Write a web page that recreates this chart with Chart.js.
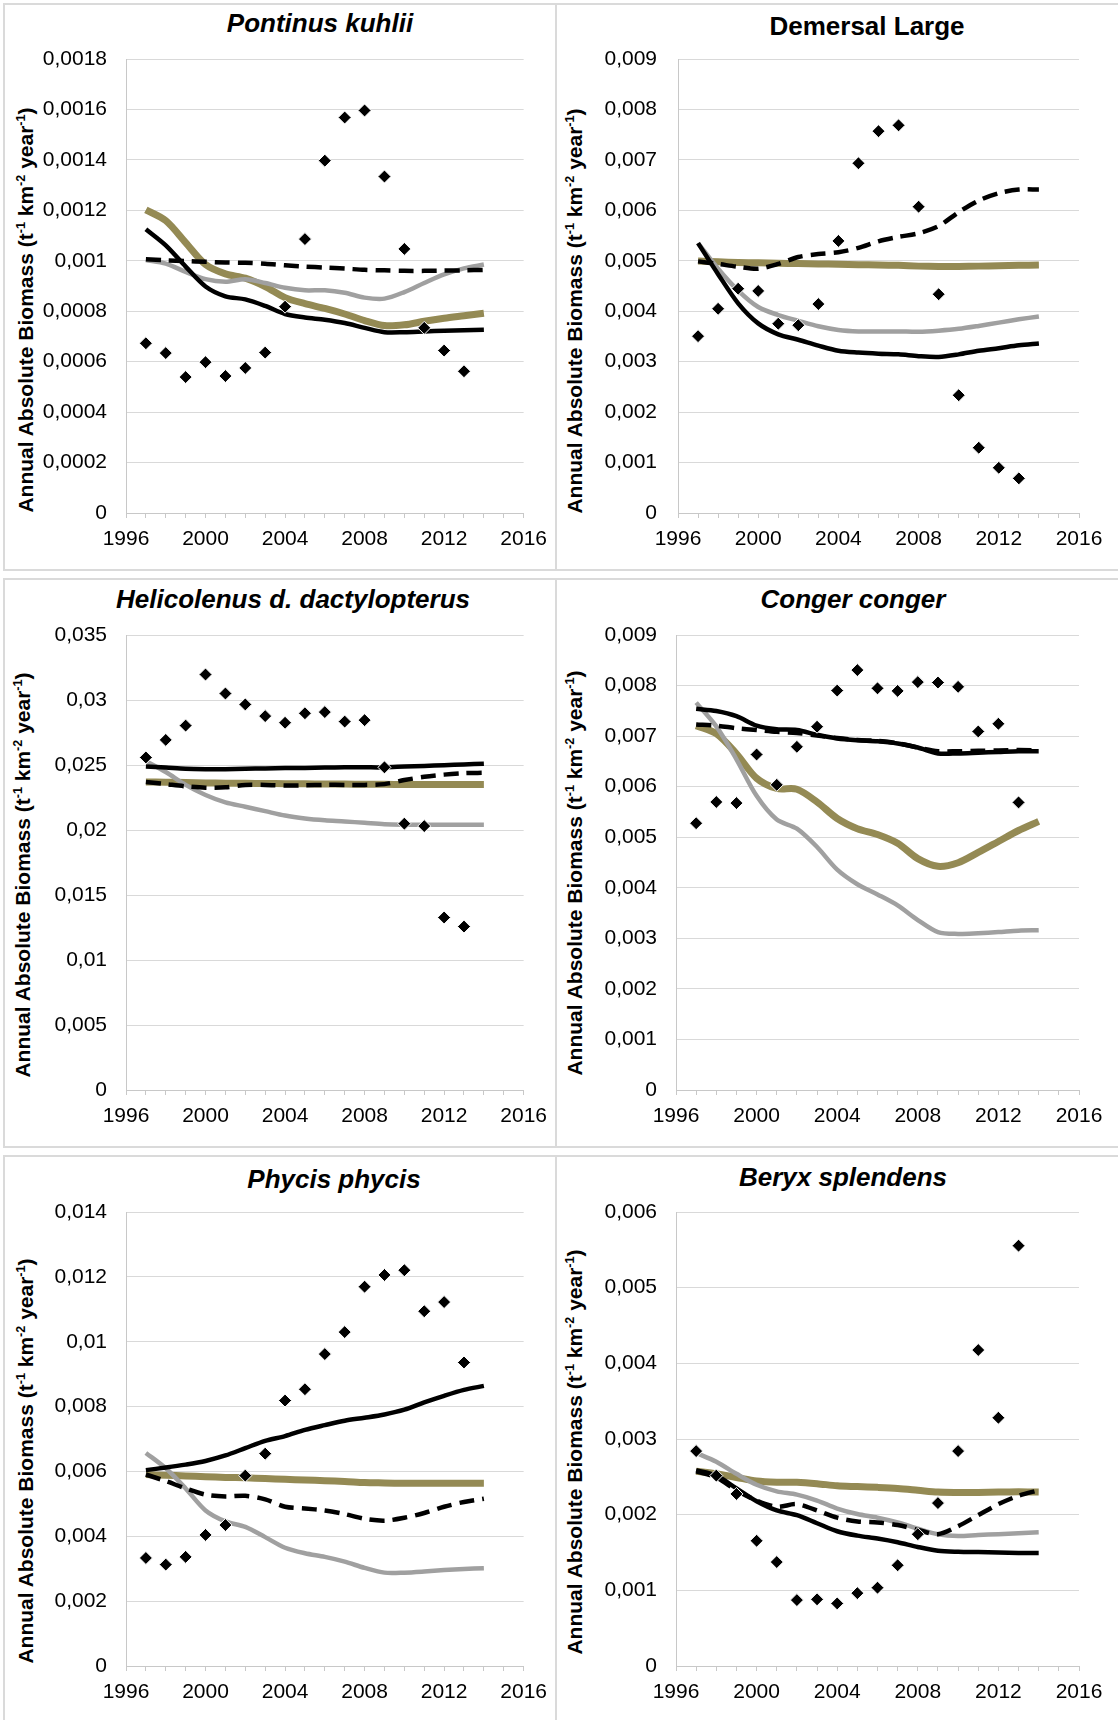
<!DOCTYPE html>
<html>
<head>
<meta charset="utf-8">
<script src="https://cdn.jsdelivr.net/npm/chart.js@4.4.1/dist/chart.umd.min.js"></script>
<style>
html,body{margin:0;padding:0;background:#fff;}
#page{position:relative;width:1118px;height:1720px;overflow:hidden;font-family:'Liberation Sans',Arial,sans-serif;}
.box{position:absolute;border:2px solid #dadada;box-sizing:border-box;}
canvas{position:absolute;}
.title{position:absolute;font-weight:bold;font-size:26px;white-space:nowrap;transform:translate(-50%,-50%);color:#000;line-height:1.15;}
.ytitle{position:absolute;font-weight:bold;font-size:21px;white-space:nowrap;transform:translate(-50%,-50%) rotate(-90deg);color:#000;line-height:1.15;}
.ytitle sup{font-size:0.6em;vertical-align:0.65em;line-height:0;}
</style>
</head>
<body>
<div id="page"></div>
<script>
// ---------------- DATA ----------------
const years = [1997,1998,1999,2000,2001,2002,2003,2004,2005,2006,2007,2008,2009,2010,2011,2012,2013,2014];
const obsYears = [1997,1998,1999,2000,2001,2002,2003,2004,2005,2006,2007,2008,2009,2010,2011,2012,2013];
const xTickYears = [1996,2000,2004,2008,2012,2016];

const panelTitles = ['Pontinus kuhlii','Demersal Large','Helicolenus d. dactylopterus','Conger conger','Phycis phycis','Beryx splendens'];
const titleItalic = [true,false,true,true,true,true];
const yAxisTitle = 'Annual Absolute Biomass (t<sup>-1</sup> km<sup>-2</sup> year<sup>-1</sup>)';

// Pontinus kuhlii
const pkObs    = [0.000673,0.000634,0.000539,0.000598,0.000543,0.000575,0.000636,0.000818,0.001086,0.001397,0.001568,0.001596,0.001334,0.001047,0.000734,0.000644,0.000562];
const pkBlack  = [0.001125,0.001061,0.000977,0.000898,0.000859,0.000847,0.000821,0.000789,0.000775,0.000766,0.000753,0.000734,0.000717,0.000717,0.00072,0.000723,0.000725,0.000727];
const pkDashed = [0.001006,0.001002,0.000999,0.000996,0.000993,0.000992,0.000988,0.000982,0.000977,0.000973,0.000969,0.000964,0.000962,0.00096,0.00096,0.000961,0.000962,0.000964];
const pkGray   = [0.001003,0.000989,0.000956,0.000927,0.000917,0.000927,0.000912,0.000893,0.000883,0.000883,0.000873,0.000854,0.00085,0.000876,0.000912,0.000946,0.00097,0.000985];
const pkOlive  = [0.001202,0.001159,0.001072,0.000985,0.000948,0.000931,0.000898,0.000854,0.00083,0.000811,0.000789,0.000763,0.000743,0.000746,0.00076,0.000772,0.000782,0.000792];

// Demersal Large
const dlObs    = [0.003506,0.004048,0.004446,0.004402,0.003752,0.003723,0.004142,0.005393,0.006933,0.007569,0.007685,0.006072,0.004337,0.002335,0.001294,0.000896,0.000687];
const dlBlack  = [0.00535,0.004735,0.004157,0.003759,0.003542,0.003434,0.003318,0.003217,0.003181,0.003159,0.003145,0.003109,0.003094,0.003145,0.003217,0.003268,0.003325,0.003362];
const dlDashed = [0.004988,0.004937,0.00488,0.004843,0.004937,0.005075,0.005133,0.005169,0.005256,0.005386,0.005473,0.005545,0.005689,0.005964,0.006195,0.00634,0.006412,0.006412];
const dlGray   = [0.00535,0.004843,0.00441,0.004084,0.003925,0.00381,0.003701,0.003629,0.0036,0.0036,0.0036,0.003593,0.003615,0.003651,0.003709,0.003774,0.003839,0.003896];
const dlOlive  = [0.004995,0.004981,0.004966,0.004959,0.004952,0.004945,0.004938,0.00493,0.004923,0.004916,0.004909,0.004894,0.004887,0.004887,0.004894,0.004901,0.004909,0.004916];

// Helicolenus d. dactylopterus
const hdObs    = [0.02558,0.02693,0.02803,0.03196,0.0305,0.02966,0.02876,0.02825,0.02898,0.02907,0.02834,0.02845,0.02482,0.02049,0.0203,0.01327,0.01257];
const hdBlack  = [0.02488,0.0248,0.02471,0.02468,0.02468,0.02471,0.02474,0.02477,0.02477,0.0248,0.02482,0.02482,0.02482,0.02488,0.02493,0.02499,0.02504,0.0251];
const hdDashed = [0.0237,0.02353,0.02336,0.02325,0.02328,0.02347,0.02347,0.02342,0.02344,0.02347,0.02347,0.02347,0.02353,0.02384,0.02409,0.02426,0.02437,0.0244];
const hdGray   = [0.0253,0.02446,0.02347,0.02269,0.02212,0.02179,0.02145,0.02111,0.02089,0.02075,0.02066,0.02055,0.02044,0.02041,0.02041,0.02041,0.02041,0.02041];
const hdOlive  = [0.0237,0.02368,0.02365,0.02362,0.0236,0.02359,0.02358,0.02356,0.02355,0.02354,0.02353,0.02352,0.02351,0.0235,0.0235,0.0235,0.0235,0.0235];

// Conger conger
const ccObs    = [0.005277,0.005697,0.005675,0.006636,0.006036,0.006788,0.007186,0.007901,0.008306,0.007945,0.007894,0.008068,0.00806,0.007974,0.007092,0.007244,0.005689];
const ccBlack  = [0.00754,0.007497,0.007395,0.007207,0.007135,0.00712,0.007027,0.006954,0.006918,0.006897,0.006853,0.006774,0.006658,0.006658,0.006672,0.006687,0.006701,0.006701];
const ccDashed = [0.007229,0.007207,0.007157,0.00712,0.007084,0.007063,0.007012,0.006961,0.006925,0.006904,0.00686,0.006774,0.006701,0.006701,0.006708,0.006716,0.006723,0.006716];
const ccGray   = [0.007663,0.007193,0.006542,0.005819,0.00535,0.005169,0.004807,0.004359,0.00407,0.003868,0.003651,0.003362,0.003123,0.003087,0.003101,0.003123,0.003152,0.003159];
const ccOlive  = [0.007207,0.007048,0.006651,0.006166,0.005964,0.005949,0.005697,0.005371,0.005169,0.005053,0.00488,0.004576,0.004424,0.004496,0.004699,0.004916,0.005133,0.005313];

// Phycis phycis
const ppObs    = [0.003331,0.003127,0.003365,0.004042,0.004347,0.005871,0.006548,0.008185,0.008535,0.009619,0.010297,0.011697,0.012058,0.012205,0.01094,0.011223,0.00936];
const ppBlack  = [0.00604,0.006119,0.00621,0.006323,0.006492,0.006718,0.006944,0.00709,0.007282,0.007429,0.007565,0.007655,0.007756,0.007903,0.008129,0.008332,0.008513,0.008637];
const ppDashed = [0.005905,0.005702,0.005476,0.005284,0.005227,0.00525,0.005137,0.004911,0.004855,0.004798,0.004686,0.004539,0.004482,0.004573,0.004719,0.004911,0.005058,0.00516];
const ppGray   = [0.006571,0.006097,0.005476,0.004798,0.00446,0.00429,0.003974,0.003647,0.003477,0.003365,0.003218,0.003026,0.002879,0.002879,0.002913,0.002958,0.002992,0.003015];
const ppOlive  = [0.005905,0.005882,0.00586,0.005837,0.005815,0.005803,0.00578,0.005758,0.005736,0.005713,0.00569,0.005656,0.005645,0.005634,0.005634,0.005634,0.005634,0.005634];

// Beryx splendens
const bsObs    = [0.00284,0.002516,0.002274,0.001655,0.001374,0.000871,0.000881,0.000827,0.000963,0.001035,0.001331,0.001742,0.002153,0.00284,0.004176,0.003281,0.005555];
const bsBlack  = [0.002589,0.002516,0.002347,0.002177,0.002056,0.001994,0.001887,0.001781,0.001723,0.001684,0.001635,0.001573,0.001524,0.00151,0.001505,0.0015,0.001495,0.001495];
const bsDashed = [0.002574,0.002492,0.002323,0.002187,0.002105,0.002139,0.002056,0.00196,0.001911,0.001897,0.001863,0.0018,0.001742,0.001848,0.001994,0.002139,0.00225,0.002323];
const bsGray   = [0.002816,0.0027,0.00254,0.002395,0.002308,0.002265,0.002187,0.002081,0.002008,0.00196,0.001897,0.001815,0.001742,0.001718,0.001732,0.001742,0.001756,0.001766];
const bsOlive  = [0.002574,0.00254,0.002492,0.002444,0.002429,0.002429,0.00241,0.002381,0.002371,0.002361,0.002347,0.002323,0.002298,0.002293,0.002293,0.002298,0.002303,0.002298];

// y-axis ranges and tick labels
const yMax  = [0.0018, 0.009, 0.035, 0.009, 0.014, 0.006];
const yStep = [0.0002, 0.001, 0.005, 0.001, 0.002, 0.001];
const yLabelsPK = ['0','0,0002','0,0004','0,0006','0,0008','0,001','0,0012','0,0014','0,0016','0,0018'];
const yLabelsDL = ['0','0,001','0,002','0,003','0,004','0,005','0,006','0,007','0,008','0,009'];
const yLabelsHD = ['0','0,005','0,01','0,015','0,02','0,025','0,03','0,035'];
const yLabelsCC = ['0','0,001','0,002','0,003','0,004','0,005','0,006','0,007','0,008','0,009'];
const yLabelsPP = ['0','0,002','0,004','0,006','0,008','0,01','0,012','0,014'];
const yLabelsBS = ['0','0,001','0,002','0,003','0,004','0,005','0,006'];

const panelSeries = [
  {obs: pkObs, black: pkBlack, dashed: pkDashed, gray: pkGray, olive: pkOlive, yLabels: yLabelsPK},
  {obs: dlObs, black: dlBlack, dashed: dlDashed, gray: dlGray, olive: dlOlive, yLabels: yLabelsDL},
  {obs: hdObs, black: hdBlack, dashed: hdDashed, gray: hdGray, olive: hdOlive, yLabels: yLabelsHD},
  {obs: ccObs, black: ccBlack, dashed: ccDashed, gray: ccGray, olive: ccOlive, yLabels: yLabelsCC},
  {obs: ppObs, black: ppBlack, dashed: ppDashed, gray: ppGray, olive: ppOlive, yLabels: yLabelsPP},
  {obs: bsObs, black: bsBlack, dashed: bsDashed, gray: bsGray, olive: bsOlive, yLabels: yLabelsBS}
];

// ---------------- LAYOUT ----------------
const layouts = [
  {cx:4,   cy:4,    cw:552, ch:566, L:126, T:59,   R:527,  B:513,  yPad:19, tx:320, ty:24,   yx:26,  yy:310},
  {cx:557, cy:4,    cw:561, ch:566, L:678, T:59,   R:1079, B:513,  yPad:21, tx:867, ty:27,   yx:575, yy:311},
  {cx:4,   cy:579,  cw:552, ch:568, L:126, T:635,  R:525,  B:1090, yPad:19, tx:293, ty:600,  yx:23,  yy:875},
  {cx:557, cy:579,  cw:561, ch:568, L:676, T:635,  R:1079, B:1090, yPad:19, tx:853, ty:600,  yx:575, yy:873},
  {cx:4,   cy:1156, cw:552, ch:564, L:126, T:1212, R:527,  B:1666, yPad:19, tx:334, ty:1180, yx:26,  yy:1461},
  {cx:557, cy:1156, cw:561, ch:564, L:676, T:1212, R:1079, B:1666, yPad:19, tx:843, ty:1178, yx:575, yy:1452}
];
const boxes = [
  {l:3, t:3, w:554, h:568}, {l:555, t:3, w:600, h:568},
  {l:3, t:578, w:554, h:570}, {l:555, t:578, w:600, h:570},
  {l:3, t:1155, w:554, h:600}, {l:555, t:1155, w:600, h:600}
];

const FONT = "'Liberation Sans', Arial, sans-serif";
const page = document.getElementById('page');

boxes.forEach(b => {
  const d = document.createElement('div');
  d.className = 'box';
  d.style.left = b.l + 'px'; d.style.top = b.t + 'px';
  d.style.width = b.w + 'px'; d.style.height = b.h + 'px';
  page.appendChild(d);
});

const toXY = (xs, ys) => ys.map((v, k) => ({x: xs[k], y: v}));

panelSeries.forEach((s, i) => {
  const p = layouts[i];
  const t = document.createElement('div');
  t.className = 'title';
  t.style.left = p.tx + 'px'; t.style.top = p.ty + 'px';
  if (titleItalic[i]) t.style.fontStyle = 'italic';
  t.textContent = panelTitles[i];
  page.appendChild(t);

  const yt = document.createElement('div');
  yt.className = 'ytitle';
  yt.style.left = p.yx + 'px'; yt.style.top = p.yy + 'px';
  yt.innerHTML = yAxisTitle;
  page.appendChild(yt);

  const c = document.createElement('canvas');
  c.width = p.cw; c.height = p.ch;
  c.style.left = p.cx + 'px'; c.style.top = p.cy + 'px';
  c.style.width = p.cw + 'px'; c.style.height = p.ch + 'px';
  page.appendChild(c);

  new Chart(c, {
    type: 'line',
    data: {
      datasets: [
        {label: 'Observed', data: toXY(obsYears, s.obs), showLine: false, pointStyle: 'rectRot', pointRadius: 6.5, pointHoverRadius: 6.5,
         pointBackgroundColor: '#000', pointBorderColor: '#fff', pointBorderWidth: 1, order: 0},
        {label: 'Model (dashed)', data: toXY(years, s.dashed), borderColor: '#000', borderWidth: 4.5, borderDash: [15, 8],
         pointRadius: 0, tension: 0.3, fill: false, order: 1},
        {label: 'Model (black)', data: toXY(years, s.black), borderColor: '#000', borderWidth: 4.5,
         pointRadius: 0, tension: 0.3, fill: false, order: 2},
        {label: 'Model (grey)', data: toXY(years, s.gray), borderColor: '#a0a0a0', borderWidth: 4.5,
         pointRadius: 0, tension: 0.3, fill: false, order: 3},
        {label: 'Model (olive)', data: toXY(years, s.olive), borderColor: '#948a54', borderWidth: 7,
         pointRadius: 0, tension: 0.3, fill: false, order: 4}
      ]
    },
    options: {
      responsive: false,
      animation: false,
      devicePixelRatio: 1,
      layout: {padding: {left: 0, top: p.T - p.cy, right: p.cx + p.cw - p.R, bottom: 0}},
      plugins: {legend: {display: false}, tooltip: {enabled: false}, title: {display: false}},
      scales: {
        x: {
          type: 'linear', min: 1996, max: 2016,
          ticks: {stepSize: 1, autoSkip: false, maxRotation: 0, minRotation: 0, padding: 9, color: '#000',
                  font: {family: FONT, size: 21},
                  callback: v => xTickYears.includes(v) ? String(v) : ''},
          grid: {drawOnChartArea: false, drawTicks: true, tickLength: 5, color: '#c8c8c8', lineWidth: 1},
          border: {display: true, color: '#c8c8c8', width: 1},
          afterFit: sc => { sc.height = p.cy + p.ch - p.B; }
        },
        y: {
          min: 0, max: yMax[i],
          ticks: {stepSize: yStep[i], padding: p.yPad, color: '#000', font: {family: FONT, size: 21},
                  callback: v => { const k = Math.round(v / yStep[i]); return s.yLabels[k] !== undefined ? s.yLabels[k] : ''; }},
          grid: {color: '#d9d9d9', lineWidth: 1, drawTicks: false},
          border: {display: true, color: '#c8c8c8', width: 1},
          afterFit: sc => { sc.width = p.L - p.cx; }
        }
      }
    }
  });
});
</script>
</body>
</html>
